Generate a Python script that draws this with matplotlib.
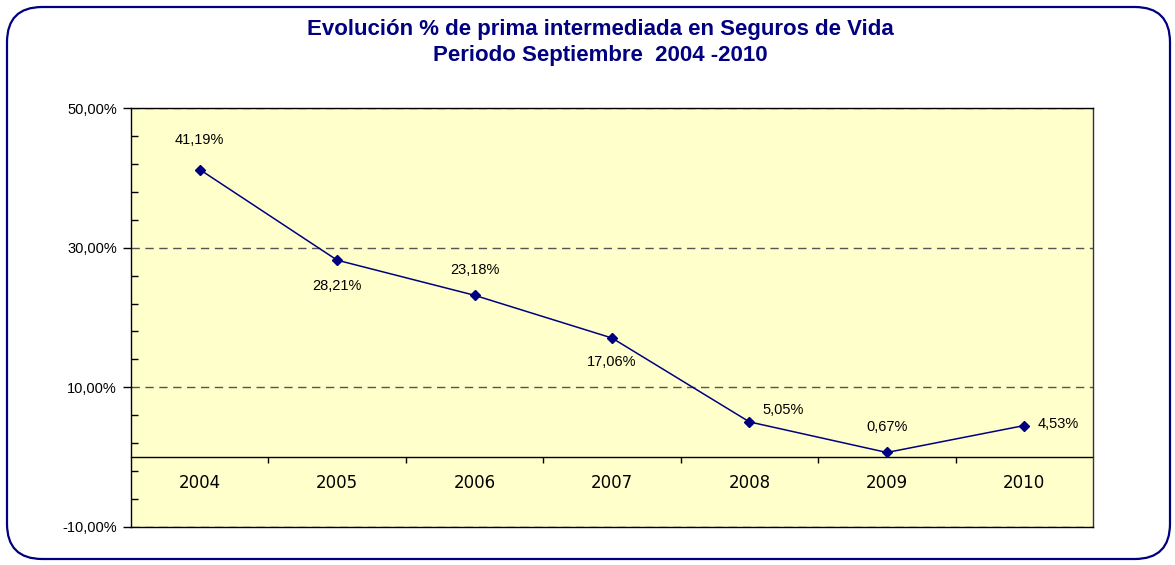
import matplotlib.pyplot as plt
import numpy as np
from matplotlib.patches import FancyBboxPatch

years = ['2004', '2005', '2006', '2007', '2008', '2009', '2010']
values = [41.19, 28.21, 23.18, 17.06, 5.05, 0.67, 4.53]
# label placement (offset in pixels) per point
label_offsets = [(0, 30), (0, -26), (0, 25), (0, -24), (13, 12), (0, 25), (13, 2)]
label_ha = ['center', 'center', 'center', 'center', 'left', 'center', 'left']

navy = '#000080'

fig = plt.figure(figsize=(11.75, 5.65), dpi=100)
fig.patch.set_facecolor('white')

# rounded border
border = FancyBboxPatch((7 / 1175, 6 / 565), 1163 / 1175, 552 / 565,
                        boxstyle='round,pad=0,rounding_size=0.03',
                        transform=fig.transFigure, fill=False,
                        edgecolor=navy, linewidth=1.6,
                        mutation_aspect=1175 / 565)
fig.patches.append(border)

fig.text(0.511, 1 - 30 / 565, 'Evolución % de prima intermediada en Seguros de Vida',
         ha='center', va='center', fontsize=16, fontweight='bold', color=navy,
         family='Liberation Sans')
fig.text(0.511, 1 - 56 / 565, 'Periodo Septiembre  2004 -2010',
         ha='center', va='center', fontsize=16, fontweight='bold', color=navy,
         family='Liberation Sans')

ax = fig.add_axes([131 / 1175, 38 / 565, 962 / 1175, 419 / 565])
ax.set_facecolor('#FFFFCC')

x = np.arange(len(years))
ax.plot(x, values, color=navy, linewidth=1.1, marker='D', markersize=5.5,
        markerfacecolor=navy, markeredgecolor=navy, zorder=5)

for xi, v, (dx, dy), ha in zip(x, values, label_offsets, label_ha):
    ax.annotate(f'{v:.2f}%'.replace('.', ','), (xi, v), xytext=(dx, dy),
                textcoords='offset pixels', ha=ha, va='center',
                fontsize=10.5, family='Liberation Sans', color='black')

ax.set_xlim(-0.5, len(years) - 0.5)
ax.set_ylim(-10, 50)

ax.set_yticks([-10, 10, 30, 50])
ax.set_yticklabels([f'{t:.2f}%'.replace('.', ',') for t in [-10, 10, 30, 50]],
                   fontsize=10.5, family='Liberation Sans')
ax.set_yticks(np.arange(-10, 51, 4), minor=True)
ax.tick_params(axis='y', which='major', direction='out', length=6, width=1, pad=4)
ax.tick_params(axis='y', which='minor', direction='in', length=5, width=1)
ax.yaxis.grid(True, which='major', linestyle=(0, (6, 4)), color='#555555', linewidth=1)
ax.set_axisbelow(True)

ax.set_xticks([])

for s in ax.spines.values():
    s.set_color('black')
    s.set_linewidth(1)
ax.spines['right'].set_color('#333333')

# category axis crossing at zero (data coordinates)
sec = ax.secondary_xaxis(0, transform=ax.transData)
sec.spines['bottom'].set_color('black')
sec.spines['bottom'].set_linewidth(1)
sec.set_xticks(x)
sec.set_xticklabels(years, fontsize=12, family='DejaVu Sans')
sec.set_xticks(np.arange(0.5, len(years) - 1, 1), minor=True)
sec.tick_params(axis='x', which='major', length=0, pad=12)
sec.tick_params(axis='x', which='minor', direction='out', length=4, width=1)

fig.savefig('out.png', dpi=100, facecolor='white')
